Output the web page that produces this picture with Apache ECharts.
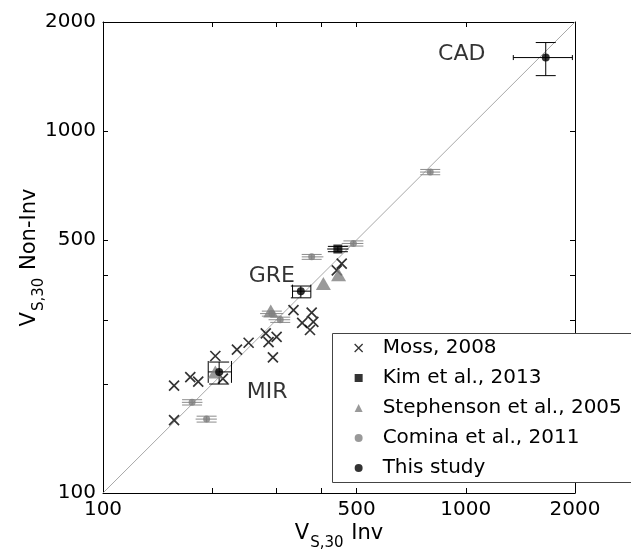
<!DOCTYPE html>
<html><head><meta charset="utf-8">
<script src="https://cdn.jsdelivr.net/npm/echarts@6/dist/echarts.min.js"></script>
<style>html,body{margin:0;padding:0;background:#fff;overflow:hidden}#c{width:631px;height:558px}</style>
</head><body><div id="c"></div><script>
// ---------- data ----------
const tickValues = [100, 200, 300, 400, 500, 1000, 2000];
const labelValues = [100, 500, 1000, 2000];

const mossX = [157, 157, 174, 183, 204, 214, 234, 252, 281, 286, 301, 294, 335, 354, 376, 380, 372, 455, 441];
const mossY = [198, 159, 209, 203, 239, 207, 249, 260, 276, 261, 270, 237, 320, 295, 315, 297, 282, 430, 412];

const kimX = [444];
const kimY = [472];
const kimXlo = [415];
const kimXhi = [475];
const kimYlo = [464];
const kimYhi = [480];

const stephX = [204, 290, 405, 446];
const stephY = [216, 318, 379, 401];

const cominaX = [176, 193, 292, 308, 376, 490, 798];
const cominaY = [178, 160, 313, 301, 449, 489, 770];
const cominaXlo = [165, 180, 271, 286, 353, 455, 748];
const cominaXhi = [188, 206, 314, 328, 405, 522, 850];
const cominaYlo = [175, 157, 308, 296, 442, 481, 757];
const cominaYhi = [181, 163, 318, 306, 456, 497, 783];

const siteNames = ['CAD', 'GRE', 'MIR'];
const studyX = [1661, 351, 209];
const studyY = [1595, 361, 216];
const studyXlo = [1352, 333, 195];
const studyXhi = [1967, 374, 226];
const studyYlo = [1422, 346, 200];
const studyYhi = [1755, 373, 230];

const seriesNames = ['Moss, 2008', 'Kim et al., 2013', 'Stephenson et al., 2005', 'Comina et al., 2011', 'This study'];

// ---------- styling ----------
const FONT = 'DejaVu Sans';
const GREY = '#808080';
const labelOffsets = { CAD: [-84, -3], GRE: [-29, -15], MIR: [48, 20] };
const crossPath = 'path://M0,0L10,10M10,0L0,10';

function zip(xs, ys) { return xs.map((x, i) => [x, ys[i]]); }
function errRows(x, y, xl, xh, yl, yh) { return x.map((v, i) => [v, y[i], xl[i], xh[i], yl[i], yh[i]]); }

function errRender(color, capPx, hCapData, hCapMinPx) {
  return function (params, api) {
    const x = api.value(0), y = api.value(1);
    const c = api.coord([x, y]);
    const pl = api.coord([api.value(2), y]), ph = api.coord([api.value(3), y]);
    const pb = api.coord([x, api.value(4)]), pt = api.coord([x, api.value(5)]);
    let hc = hCapMinPx;
    if (hCapData) {
      const a = api.coord([x, y + hCapData]), b = api.coord([x, y - hCapData]);
      hc = Math.max(Math.abs(b[1] - a[1]) / 2, hCapMinPx);
    }
    const style = { stroke: color, lineWidth: 1, fill: null };
    const segs = [
      [pl[0], c[1], ph[0], c[1]],
      [c[0], pb[1], c[0], pt[1]],
      [c[0] - capPx / 2, pb[1], c[0] + capPx / 2, pb[1]],
      [c[0] - capPx / 2, pt[1], c[0] + capPx / 2, pt[1]]
    ];
    if (hc > 0) {
      segs.push([pl[0], c[1] - hc, pl[0], c[1] + hc]);
      segs.push([ph[0], c[1] - hc, ph[0], c[1] + hc]);
    }
    return {
      type: 'group',
      children: segs.map(s => ({ type: 'line', shape: { x1: s[0], y1: s[1], x2: s[2], y2: s[3] }, style: style }))
    };
  };
}

const nameRich = {
  v: { fontFamily: FONT, fontSize: 21, color: '#000' },
  s: { fontFamily: FONT, fontSize: 15, color: '#000', padding: [20, 1, 0, 1] }
};
const axisName = (t) => '{v|V}{s|S,30}{v| ' + t + '}';

function makeAxis(pos, showLabel, name, gap) {
  return {
    type: 'log', logBase: 10, min: 100, max: 2000, position: pos,
    axisLine: { show: true, onZero: false, lineStyle: { color: '#000', width: 1 } },
    axisTick: { show: true, inside: true, length: 5, lineStyle: { color: '#000', width: 1 }, customValues: tickValues },
    minorTick: { show: false },
    axisLabel: {
      show: showLabel, customValues: labelValues, fontFamily: FONT, fontSize: 20, color: '#000', margin: 7,
      formatter: (v) => String(Math.round(v))
    },
    splitLine: { show: false },
    name: name, nameLocation: 'middle', nameGap: gap, nameMoveOverlap: false,
    nameTextStyle: { rich: nameRich }
  };
}

const chart = echarts.init(document.getElementById('c'), null, { renderer: 'canvas' });
chart.setOption({
  animation: false,
  backgroundColor: '#fff',
  grid: { left: 103, right: 56, top: 22, bottom: 65, containLabel: false, outerBoundsMode: 'none' },
  xAxis: [makeAxis('bottom', true, axisName('Inv'), 23), makeAxis('top', false, '', 0)],
  yAxis: [makeAxis('left', true, axisName('Non-Inv'), 56), makeAxis('right', false, '', 0)],
  graphic: [
    {
      type: 'rect', z: 9, silent: true,
      shape: { x: 332.5, y: 333.5, width: 330, height: 149 },
      style: { fill: '#fff', stroke: null }
    },
    {
      type: 'polyline', z: 9, silent: true,
      shape: { points: [[700, 333.5], [332.5, 333.5], [332.5, 482.5], [700, 482.5]] },
      style: { fill: null, stroke: '#444', lineWidth: 1 }
    }
  ],
  legend: {
    data: [
      { name: seriesNames[0], icon: crossPath, itemStyle: { color: '#000', borderColor: '#000', borderWidth: 1.3 } },
      { name: seriesNames[1], icon: 'rect' },
      { name: seriesNames[2], icon: 'triangle' },
      { name: seriesNames[3], icon: 'circle' },
      { name: seriesNames[4], icon: 'circle' }
    ],
    orient: 'vertical', left: 332, top: 333, z: 10,
    itemWidth: 8, itemHeight: 8, itemGap: 10,
    padding: [5, 0, 6, 22],
    borderWidth: 0, backgroundColor: 'transparent',
    textStyle: { fontFamily: FONT, fontSize: 20, color: '#000', padding: [0, 0, 0, 15] },
    selectedMode: false
  },
  series: [
    {
      type: 'line', data: [[100, 100], [2000, 2000]], symbol: 'none', silent: true, z: 1,
      lineStyle: { color: '#a8a8a8', width: 1 }
    },
    {
      type: 'custom', name: 'comina-err', data: errRows(cominaX, cominaY, cominaXlo, cominaXhi, cominaYlo, cominaYhi),
      encode: { x: [0, 2, 3], y: [1, 4, 5] }, renderItem: errRender('#8c8c8c', 20, 0, 0), z: 2, silent: true
    },
    {
      type: 'custom', name: 'kim-err', data: errRows(kimX, kimY, kimXlo, kimXhi, kimYlo, kimYhi),
      encode: { x: [0, 2, 3], y: [1, 4, 5] }, renderItem: errRender('#000', 20, 0, 0), z: 2, silent: true
    },
    {
      type: 'custom', name: 'study-err', data: errRows(studyX, studyY, studyXlo, studyXhi, studyYlo, studyYhi),
      encode: { x: [0, 2, 3], y: [1, 4, 5] }, renderItem: errRender('#000', 20, 15, 2.5), z: 2, silent: true
    },
    {
      type: 'scatter', name: seriesNames[0], data: zip(mossX, mossY), symbol: crossPath, symbolSize: 10, z: 3,
      itemStyle: { color: '#000', borderColor: '#000', borderWidth: 1.7 }
    },
    {
      type: 'scatter', name: seriesNames[1], data: zip(kimX, kimY), symbol: 'rect', symbolSize: 9, z: 4,
      itemStyle: { color: '#000' }
    },
    {
      type: 'scatter', name: seriesNames[2], data: zip(stephX, stephY), symbol: 'triangle', symbolSize: [15, 13], z: 3,
      itemStyle: { color: GREY }
    },
    {
      type: 'scatter', name: seriesNames[3], data: zip(cominaX, cominaY), symbol: 'circle', symbolSize: 7, z: 4,
      itemStyle: { color: GREY }
    },
    {
      type: 'scatter', name: seriesNames[4], symbol: 'circle', symbolSize: 8, z: 5,
      itemStyle: { color: '#000' },
      data: studyX.map((x, i) => ({
        value: [x, studyY[i]], name: siteNames[i],
        label: {
          show: true, position: 'inside', formatter: siteNames[i], offset: labelOffsets[siteNames[i]],
          fontFamily: FONT, fontSize: 22, color: '#000'
        }
      }))
    }
  ]
});
</script></body></html>
